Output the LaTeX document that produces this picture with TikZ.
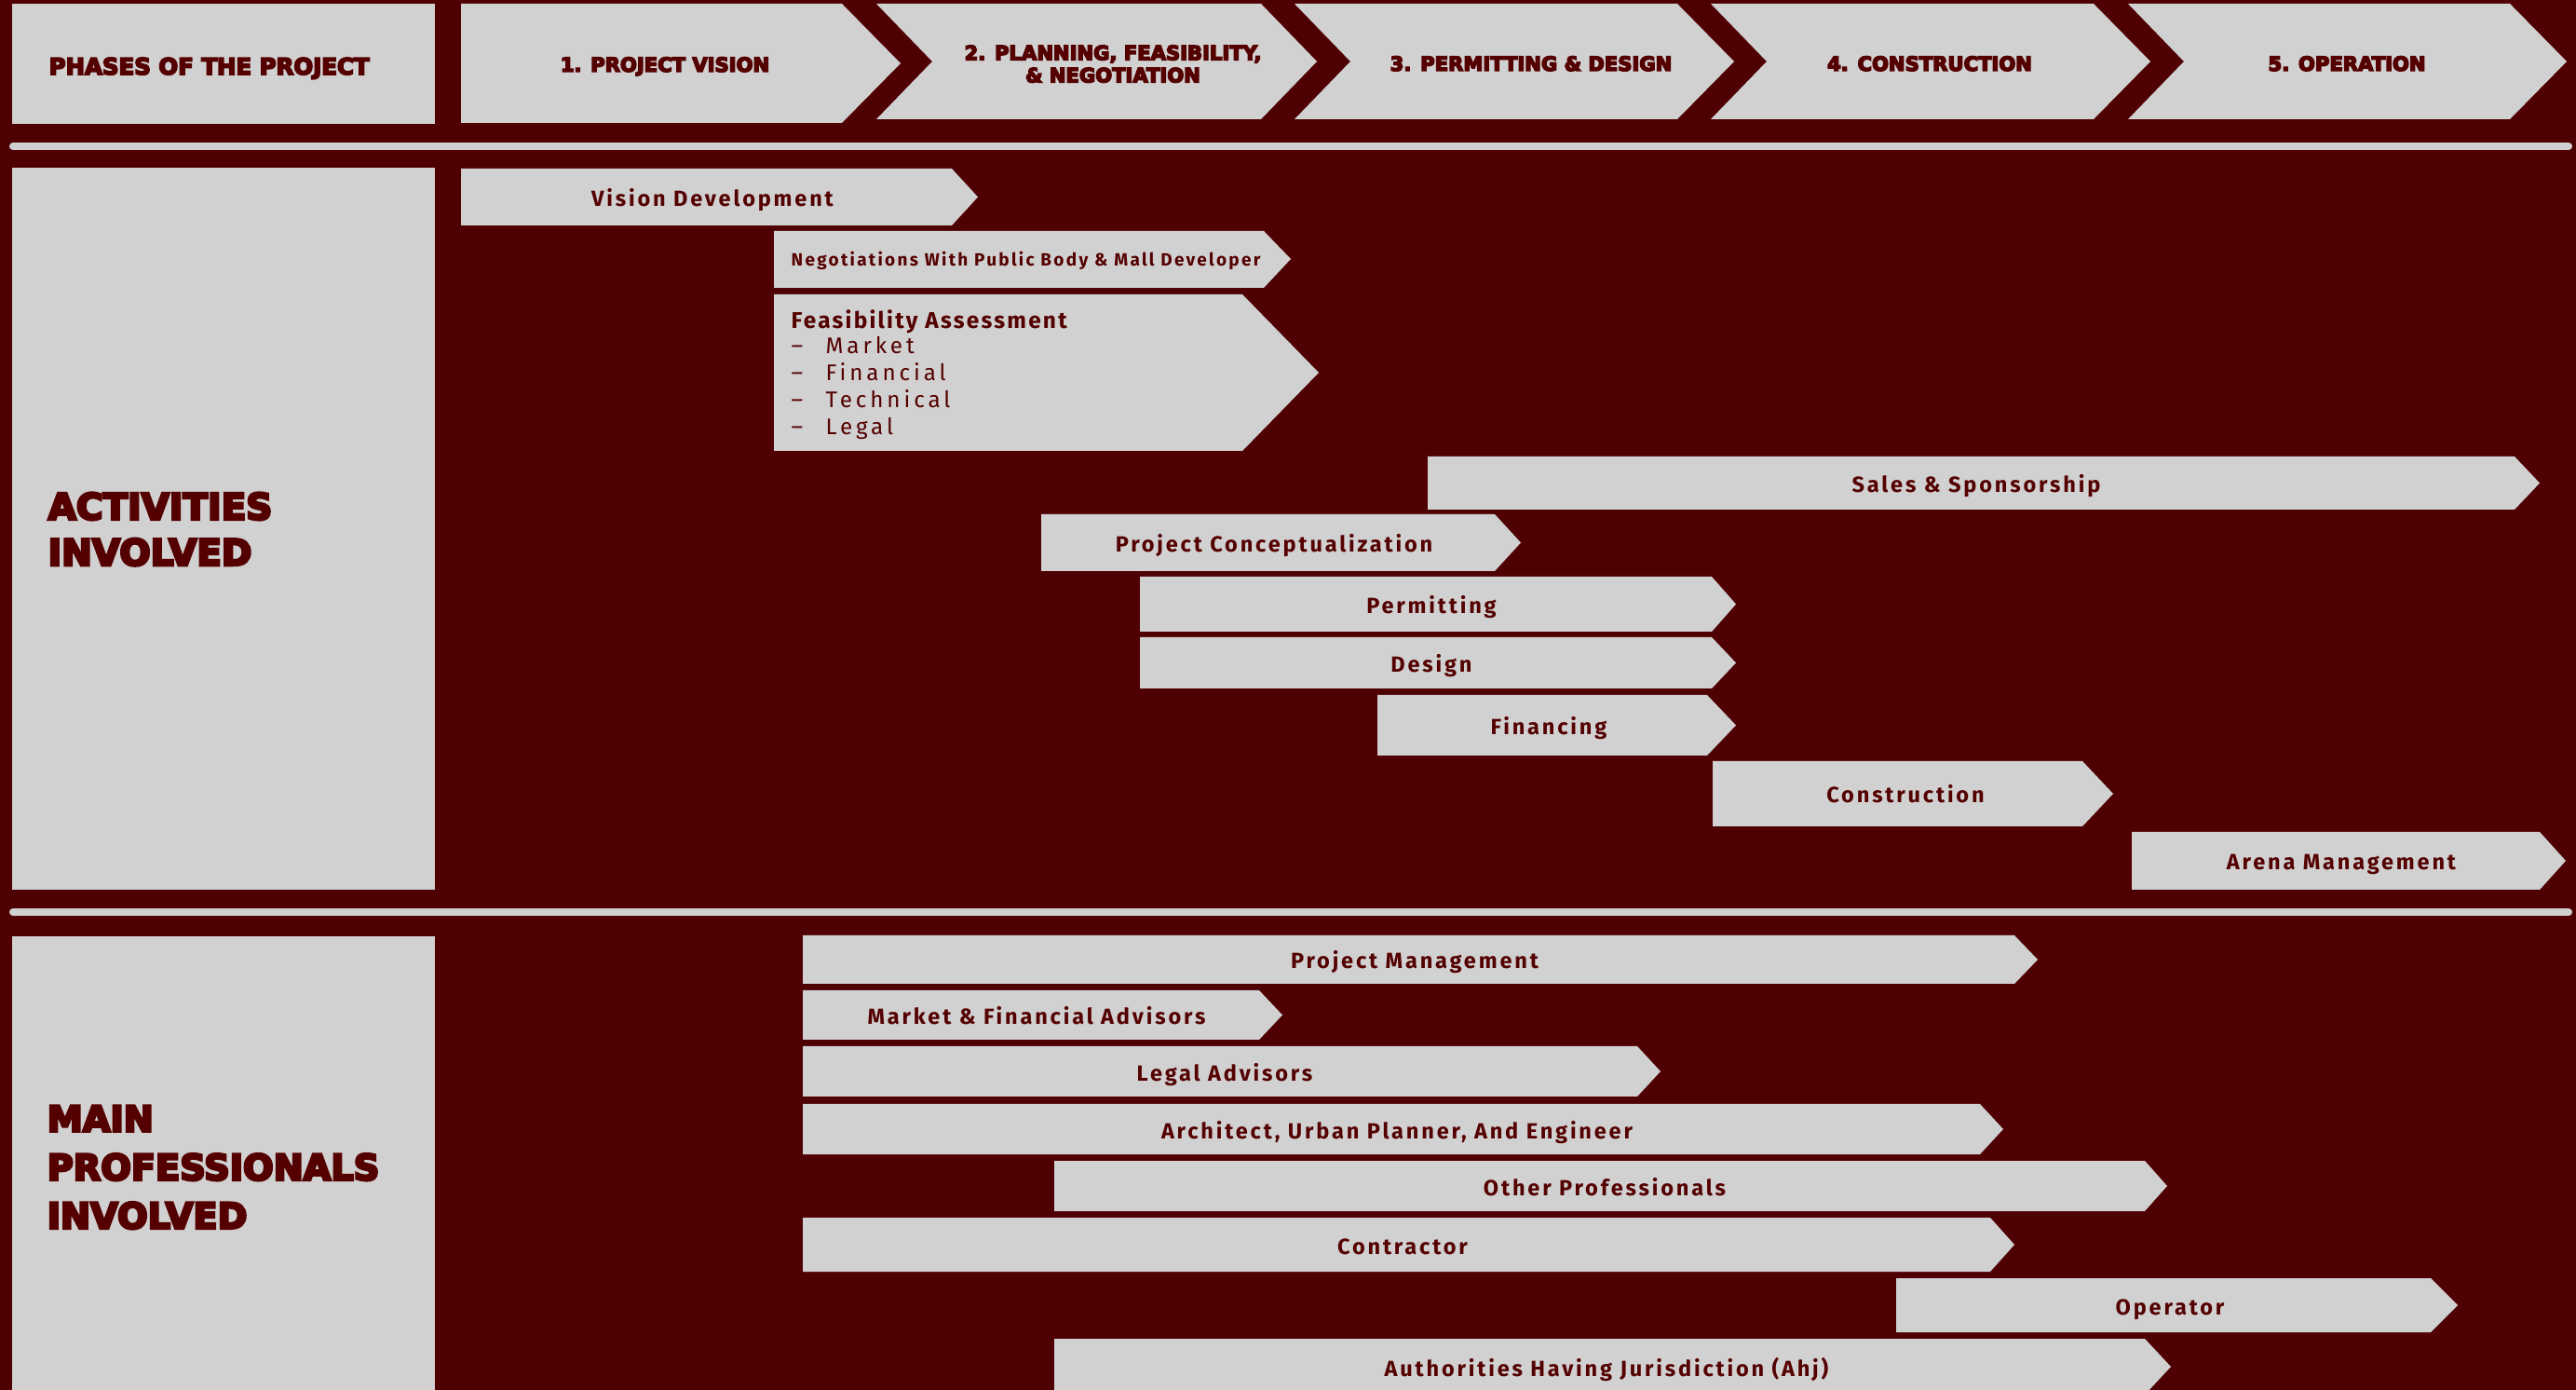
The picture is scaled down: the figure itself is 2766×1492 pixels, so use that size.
\documentclass[tikz,border=0pt]{standalone}
\usepackage{fontspec}
\newfontfamily\headfont{DejaVu Sans}[BoldFeatures={FakeBold=7}]
\newfontfamily\actfont{Fira Sans}[LetterSpace=12]
\newfontfamily\feasfont{Fira Sans}[LetterSpace=9]
\newfontfamily\itemfont{Fira Sans}[LetterSpace=16]
\definecolor{bgred}{RGB}{78,0,3}
\definecolor{gfill}{RGB}{209,209,209}
\definecolor{tred}{RGB}{85,0,0}
\tikzset{
 phasetext/.style={font={\headfont\bfseries\fontsize{6}{6.83}\selectfont}, text=tred, inner sep=0pt, align=center},
 headsmall/.style={font={\headfont\bfseries\fontsize{6.95}{8}\selectfont}, text=tred, inner sep=0pt},
 headbig/.style={font={\headfont\bfseries\fontsize{11.1}{14}\selectfont}, text=tred, inner sep=0pt, align=left},
 headbigb/.style={font={\headfont\bfseries\fontsize{10.9}{14.8}\selectfont}, text=tred, inner sep=0pt, align=left},
 acttext/.style={font={\actfont\bfseries\fontsize{6.7}{8}\selectfont}, text=tred, inner sep=0pt, anchor=base},
 negtext/.style={font={\actfont\bfseries\fontsize{5.4}{6.5}\selectfont}, text=tred, inner sep=0pt, anchor=base west},
 feastitle/.style={font={\feasfont\bfseries\fontsize{6.95}{8}\selectfont}, text=tred, inner sep=0pt, anchor=base west},
 itemtext/.style={font={\itemfont\fontsize{6.9}{8}\selectfont}, text=tred, inner sep=0pt, anchor=base west},
 sepline/.style={draw=gfill, line width=0.08cm, line cap=round},
}
% name, left, top, bottom, shoulder, tip, text x, text
\newcommand{\gArrow}[8]{%
  \fill[gfill] (#2,#3) -- (#5,#3) -- (#6,{(#3+#4)/2}) -- (#5,#4) -- (#2,#4) -- cycle;
  \node[acttext] (#1) at (#7,{(#3+#4)/2+10}) {#8};
}
\begin{document}
\begin{tikzpicture}[x=0.01cm,y=-0.01cm]
\useasboundingbox (0,0) rectangle (2766,1492);
\clip (0,0) rectangle (2766,1492);
\fill[bgred] (0,0) rectangle (2766,1492);

% header
\fill[gfill] (13,4) rectangle (467,133);
\node[headsmall, anchor=base west] (phases) at (52,80) {PHASES OF THE PROJECT};

\fill[gfill] (495,4) -- (904,4) -- (967,68) -- (904,132) -- (495,132) -- cycle;
\fill[gfill] (941,4) -- (1354,4) -- (1414,66) -- (1354,128) -- (941,128) -- (1001,66) -- cycle;
\fill[gfill] (1390,4) -- (1801,4) -- (1862,66) -- (1801,128) -- (1390,128) -- (1450,66) -- cycle;
\fill[gfill] (1837,4) -- (2248,4) -- (2309,66) -- (2248,128) -- (1837,128) -- (1897,66) -- cycle;
\fill[gfill] (2285,4) -- (2695,4) -- (2756,66) -- (2695,128) -- (2285,128) -- (2345,66) -- cycle;
\node[phasetext, anchor=base] (ph1) at (714,77) {1. PROJECT VISION};
\node[phasetext, anchor=north] (ph2) at (1195,48) {2. PLANNING, FEASIBILITY,\\\& NEGOTIATION};
\node[phasetext, anchor=base] (ph3) at (1644,76) {3. PERMITTING \& DESIGN};
\node[phasetext, anchor=base] (ph4) at (2072,76) {4. CONSTRUCTION};
\node[phasetext, anchor=base] (ph5) at (2520,76) {5. OPERATION};

% separators
\draw[sepline] (14,157) -- (2758,157);
\draw[sepline] (14,979) -- (2758,979);

% left boxes
\fill[gfill] (13,180) rectangle (467,955);
\node[headbig, anchor=north west] (act) at (51,528) {ACTIVITIES\\INVOLVED};
\fill[gfill] (13,1005) rectangle (467,1510);
\node[headbigb, anchor=north west] (prof) at (50,1186) {MAIN\\PROFESSIONALS\\INVOLVED};

% activities
\gArrow{vision}{495}{181}{242}{1022}{1050}{765}{Vision Development}
\fill[gfill] (831,248) -- (1357,248) -- (1386,278) -- (1357,309) -- (831,309) -- cycle;
\node[negtext] (neg) at (849,286) {Negotiations With Public Body \& Mall Developer};
\fill[gfill] (831,316) -- (1334,316) -- (1416,400) -- (1334,484) -- (831,484) -- cycle;
\node[feastitle] (feas) at (849,353) {Feasibility Assessment};
\node[itemtext] (feas1) at (849,380) {\makebox[0.37cm][l]{–}Market};
\node[itemtext] (feas2) at (849,409) {\makebox[0.37cm][l]{–}Financial};
\node[itemtext] (feas3) at (849,438) {\makebox[0.37cm][l]{–}Technical};
\node[itemtext] (feas4) at (849,467) {\makebox[0.37cm][l]{–}Legal};
\gArrow{sales}{1533}{490}{547}{2700}{2727}{2122}{Sales \& Sponsorship}
\gArrow{concept}{1118}{552}{613}{1605}{1633}{1368}{Project Conceptualization}
\gArrow{permit}{1224}{619}{678}{1838}{1864}{1537}{Permitting}
\gArrow{design}{1224}{684}{739}{1838}{1864}{1537}{Design}
\gArrow{financing}{1479}{746}{811}{1833}{1864}{1663}{Financing}
\gArrow{constr}{1839}{817}{887}{2236}{2269}{2046}{Construction}
\gArrow{arena}{2289}{893}{955}{2727}{2755}{2514}{Arena Management}

% professionals
\gArrow{pm}{862}{1004}{1056}{2163}{2188}{1519}{Project Management}
\gArrow{mfa}{862}{1063}{1116}{1352}{1377}{1113}{Market \& Financial Advisors}
\gArrow{legal}{862}{1123}{1177}{1758}{1783}{1315}{Legal Advisors}
\gArrow{arch}{862}{1185}{1239}{2126}{2151}{1500}{Architect, Urban Planner, And Engineer}
\gArrow{other}{1132}{1246}{1300}{2303}{2327}{1723}{Other Professionals}
\gArrow{contr}{862}{1307}{1365}{2137}{2163}{1506}{Contractor}
\gArrow{oper}{2036}{1372}{1430}{2610}{2639}{2330}{Operator}
\gArrow{ahj}{1132}{1437}{1497}{2303}{2331}{1725}{Authorities Having Jurisdiction (Ahj)}
\end{tikzpicture}
\end{document}
